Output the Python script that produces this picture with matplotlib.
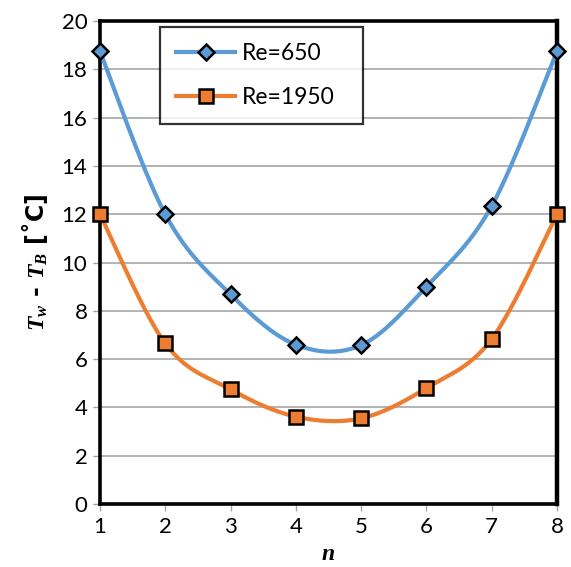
import numpy as np
import matplotlib
matplotlib.use("Agg")
import matplotlib.pyplot as plt

n_vals = [1, 2, 3, 4, 5, 6, 7, 8]
re650 = [18.75, 12.0, 8.68, 6.6, 6.58, 9.0, 12.34, 18.75]
re1950 = [12.0, 6.65, 4.75, 3.62, 3.55, 4.8, 6.83, 12.0]
labels = ["Re=650", "Re=1950"]
yticks = [0, 2, 4, 6, 8, 10, 12, 14, 16, 18, 20]

plt.rcParams['mathtext.fontset'] = 'custom'
plt.rcParams['mathtext.it'] = 'Liberation Serif:italic:bold'
plt.rcParams['mathtext.rm'] = 'Liberation Serif:bold'


def smooth(x, y, steps=30):
    x = np.asarray(x, float); y = np.asarray(y, float)
    px = np.concatenate([[x[0]], x, [x[-1]]])
    py = np.concatenate([[y[0]], y, [y[-1]]])
    xs, ys = [], []
    t = np.linspace(0, 1, steps)
    for i in range(1, len(px) - 2):
        p0 = np.array([px[i], py[i]]); p3 = np.array([px[i+1], py[i+1]])
        c1 = p0 + (np.array([px[i+1], py[i+1]]) - np.array([px[i-1], py[i-1]])) / 6
        c2 = p3 - (np.array([px[i+2], py[i+2]]) - np.array([px[i], py[i]])) / 6
        b = ((1-t)**3)[:, None]*p0 + (3*(1-t)**2*t)[:, None]*c1 + (3*(1-t)*t**2)[:, None]*c2 + (t**3)[:, None]*p3
        xs.extend(b[:, 0]); ys.extend(b[:, 1])
    return np.array(xs), np.array(ys)

fig = plt.figure(figsize=(5.71, 5.67), dpi=100)
ax = fig.add_axes([0.175, 0.111, 0.8005, 0.852])

blue = '#5B9BD5'
orange = '#ED7D31'

for vals, col, mk, ms, lab in [(re650, blue, 'D', 8, labels[0]), (re1950, orange, 's', 10, labels[1])]:
    sx, sy = smooth(n_vals, vals)
    ax.plot(sx, sy, color=col, lw=3, zorder=3, clip_on=False)
    ax.plot(n_vals, vals, linestyle='none', marker=mk, ms=ms, mfc=col, mec='black', mew=1.8, zorder=4, clip_on=False)
    ax.plot([], [], color=col, lw=3, marker=mk, ms=ms, mfc=col, mec='black', mew=1.8, label=lab)

ax.set_xlim(1, 8)
ax.set_ylim(0, 20)
ax.set_xticks(n_vals)
ax.set_yticks(yticks)
ax.yaxis.grid(True, color='#A6A6A6', lw=1.2)
ax.set_axisbelow(True)
for s in ax.spines.values():
    s.set_color('black')
    s.set_linewidth(2.6)
ax.spines['right'].set_linewidth(3.2)
ax.tick_params(axis='both', direction='out', length=5, width=1, color='#A6A6A6', labelsize=16, pad=4)
for lbl in ax.get_xticklabels() + ax.get_yticklabels():
    lbl.set_fontfamily('Lato')

ax.set_xlabel(r'$n$', fontsize=17, labelpad=3)
ax.set_ylabel(r'$T_w$ - $T_B$ [˚C]', fontsize=17, fontweight='bold', labelpad=8)

leg = ax.legend(loc='upper left', bbox_to_anchor=(0.131, 0.988, 0.444, 0.0), mode='expand',
                borderaxespad=0, frameon=True, fancybox=False,
                edgecolor='black', handlelength=2.6, handletextpad=0.3, borderpad=0.7, labelspacing=1.0,
                prop={'family': 'Lato', 'size': 16.5})
leg.get_frame().set_linewidth(1.6)

fig.savefig('out.png', dpi=100)
